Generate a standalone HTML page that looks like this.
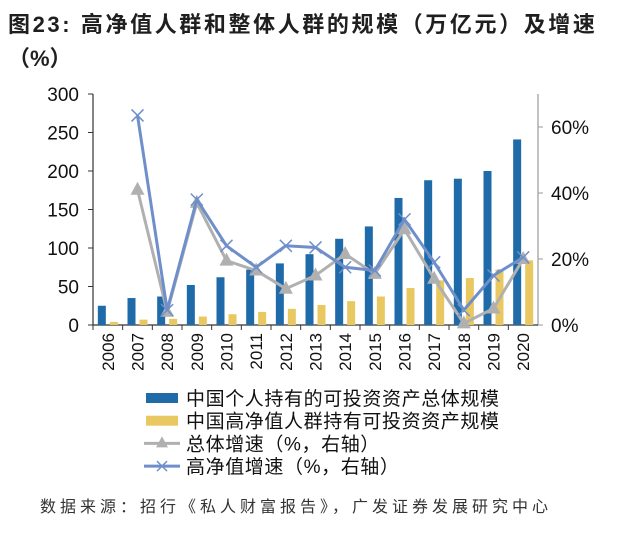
<!DOCTYPE html>
<html><head><meta charset="utf-8"><style>
body{margin:0;width:640px;height:533px;background:#fff;overflow:hidden;font-family:"Liberation Sans","Noto Sans CJK SC",sans-serif}
</style></head><body>
<svg id="c" width="640" height="533" xmlns="http://www.w3.org/2000/svg">
<text x="8" y="32" font-size="22" font-weight="bold" fill="#1f1f1f" letter-spacing="2.6" font-family="Liberation Sans,Noto Sans CJK SC,sans-serif">图23:  高净值人群和整体人群的规模（万亿元）及增速</text>
<text x="8" y="66" font-size="22" font-weight="bold" fill="#1f1f1f" font-family="Liberation Sans,Noto Sans CJK SC,sans-serif">（%）</text>
<g id="plot"></g>
<text x="40" y="512" font-size="16" fill="#333" letter-spacing="4" font-family="Liberation Sans,Noto Sans CJK SC,sans-serif">数据来源：招行《私人财富报告》，广发证券发展研究中心</text>
</svg>
<script>
const years=["2006","2007","2008","2009","2010","2011","2012","2013","2014","2015","2016","2017","2018","2019","2020"];
const totalScale=[25,35,37,52,62,72,80,92,112,128,165,188,190,200,241];
const hnwScale=[4,7,8,11,14,17,21,26,31,37,48,58,61,72,84];
const totalGrowth=[null,41,4,37,19.5,16.5,11,15,21.5,15.5,29,14,0.5,5,20];
const hnwGrowth=[null,63.5,4.5,38,24,17.5,24,23.5,17.5,16.5,32,19,4.5,15,20.5];
const leftTicks=[0,50,100,150,200,250,300];
const rightTicks=[0,20,40,60];
const NS="http://www.w3.org/2000/svg";
const g=document.getElementById('plot');
const X0=93,X1=538,Y0=325,Y1=94;
const bw=(X1-X0)/years.length;
const yl=v=>Y0-(v/300)*(Y0-Y1);
const yr=v=>Y0-(v/70)*(Y0-Y1);
const xc=i=>X0+bw*(i+0.5);
function el(t,a){const e=document.createElementNS(NS,t);for(const k in a)e.setAttribute(k,a[k]);g.appendChild(e);return e;}
let e;
e=el('line',{x1:X0,y1:Y1,x2:X0,y2:Y0,stroke:'#333','stroke-width':1.2});

e=el('line',{x1:X1,y1:Y1,x2:X1,y2:Y0,stroke:'#999','stroke-width':1.2});

e=el('line',{x1:X0,y1:Y0,x2:X1,y2:Y0,stroke:'#333','stroke-width':1.2});

leftTicks.forEach(v=>{
 e=el('line',{x1:X0-5,y1:yl(v),x2:X0,y2:yl(v),stroke:'#333'});
 
 e=el('text',{x:X0-14,y:yl(v)+7,'font-size':19,'text-anchor':'end',fill:'#111'});e.textContent=v;
 
});
rightTicks.forEach(v=>{
 e=el('line',{x1:X1,y1:yr(v),x2:X1+5,y2:yr(v),stroke:'#999'});
 
 e=el('text',{x:X1+13,y:yr(v)+7,'font-size':19,fill:'#111'});e.textContent=v+'%';
 
});
years.forEach((y,i)=>{
 e=el('line',{x1:X0+bw*i,y1:Y0,x2:X0+bw*i,y2:Y0+5,stroke:'#333'});
 
 e=el('rect',{x:xc(i)-10,y:yl(totalScale[i]),width:8,height:Y0-yl(totalScale[i]),fill:'#1f6aa9'});
 
 e=el('rect',{x:xc(i)+2,y:yl(hnwScale[i]),width:8,height:Y0-yl(hnwScale[i]),fill:'#e9c862'});
 
 e=el('text',{x:0,y:0,'font-size':17,'text-anchor':'end',fill:'#111',transform:`translate(${xc(i)+6},${Y0+8}) rotate(-90)`});e.textContent=y;
 
});
function line(arr,color,name,marker){
 const pts=arr.map((v,i)=>v==null?null:[xc(i),yr(v)]).filter(p=>p);
 e=el('polyline',{points:pts.map(p=>p.join(',')).join(' '),fill:'none',stroke:color,'stroke-width':3});
 
 pts.forEach(p=>{
  if(marker==='tri'){e=el('polygon',{points:`${p[0]},${p[1]-8} ${p[0]-7},${p[1]+5} ${p[0]+7},${p[1]+5}`,fill:color});}
  else{e=el('path',{d:`M${p[0]-6},${p[1]-6}L${p[0]+6},${p[1]+6}M${p[0]-6},${p[1]+6}L${p[0]+6},${p[1]-6}`,stroke:color,'stroke-width':1.5});}
  
 });
}
line(totalGrowth,'#b0b0b0','total-growth','tri');
line(hnwGrowth,'#6f8fca','hnw-growth','x');
const legend=[['中国个人持有的可投资资产总体规模','#1f6aa9','bar'],['中国高净值人群持有可投资资产规模','#e9c862','bar'],['总体增速（%，右轴）','#b0b0b0','tri'],['高净值增速（%，右轴）','#6f8fca','x']];
legend.forEach((l,i)=>{
 const y=398+i*22.7;
 if(l[2]==='bar'){e=el('rect',{x:146,y:y-5,width:32,height:10,fill:l[1]});}
 else{e=el('line',{x1:144,y1:y,x2:180,y2:y,stroke:l[1],'stroke-width':3});
  if(l[2]==='tri')el('polygon',{points:`162,${y-7} 156,${y+4} 168,${y+4}`,fill:l[1]});
  else el('path',{d:`M157,${y-5}L167,${y+5}M157,${y+5}L167,${y-5}`,stroke:l[1],'stroke-width':1.5});}
 
 e=el('text',{x:186,y:y+7,'font-size':19,fill:'#111','letter-spacing':0.6});e.textContent=l[0];
 
});
</script>
</body></html>
